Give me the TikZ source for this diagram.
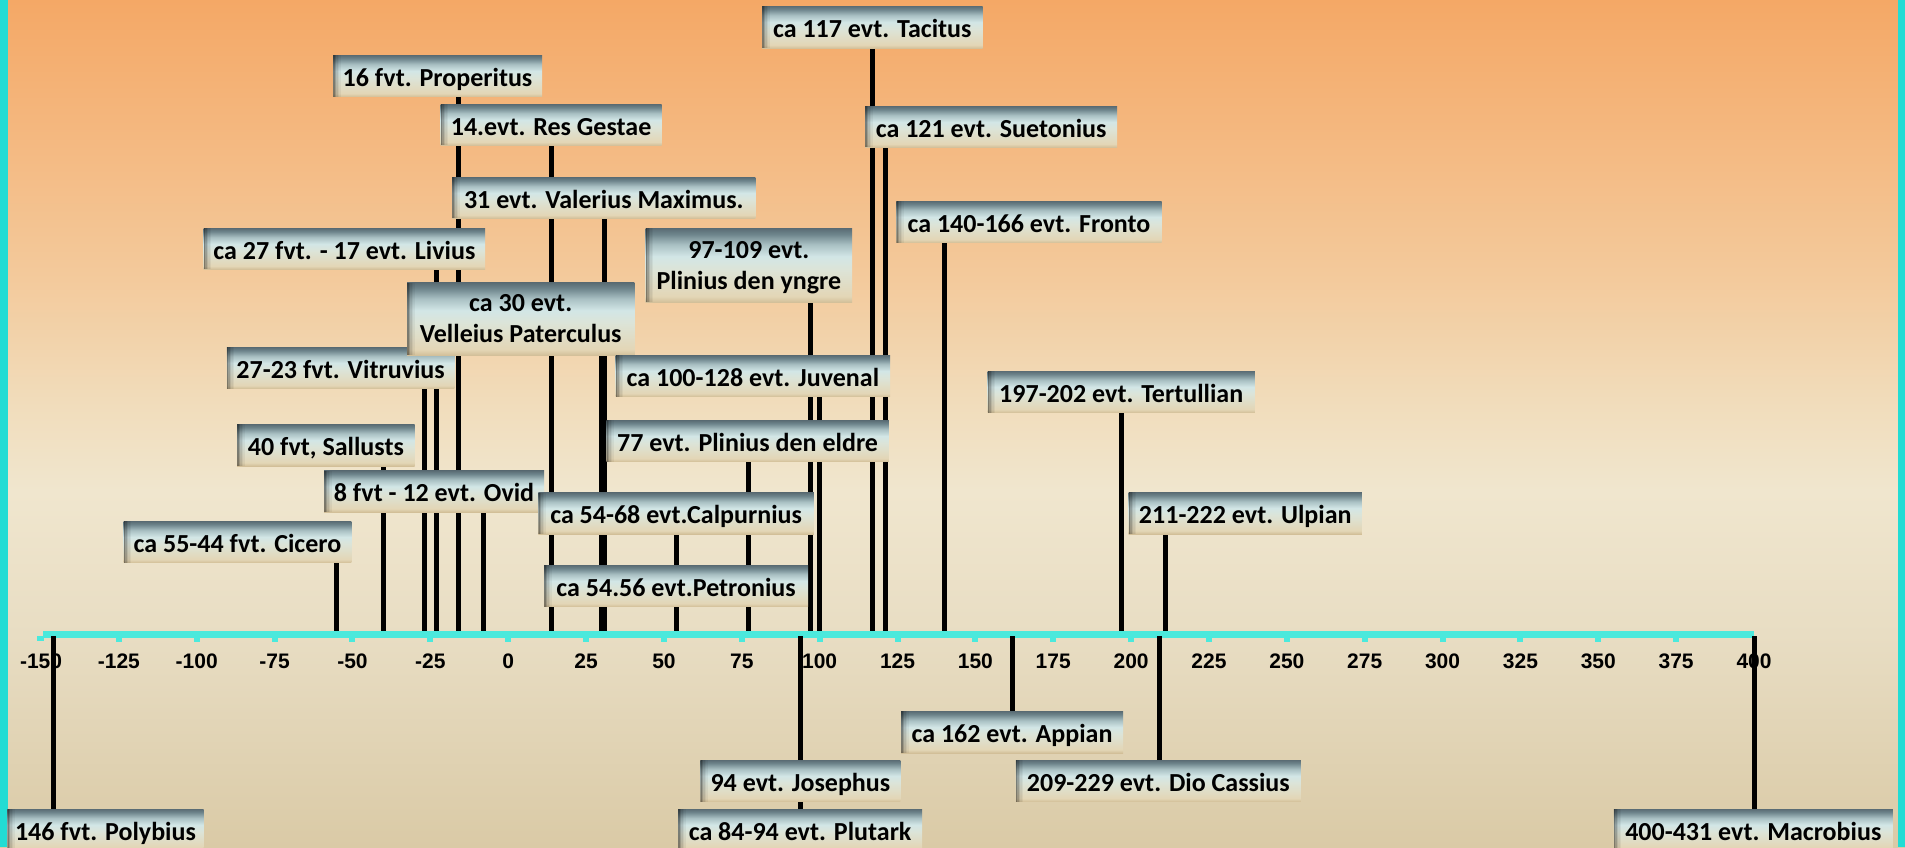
\documentclass[tikz,border=0pt]{standalone}
\usepackage{fontspec}
\newfontfamily\lblfont{Carlito}
\newfontfamily\axfont{Liberation Sans}
\definecolor{cyanborder}{HTML}{22DCD4}
\definecolor{axiscol}{HTML}{4BE9DC}
\definecolor{bgA}{HTML}{DACAA6}
\definecolor{bgB}{HTML}{E8DDC3}
\definecolor{bgC}{HTML}{F0E6CE}
\definecolor{bgD}{HTML}{F1DDBC}
\definecolor{bgE}{HTML}{F3CA9C}
\definecolor{bgF}{HTML}{F4B77E}
\definecolor{bgG}{HTML}{F4A866}
\definecolor{bxA}{HTML}{D2BF98}
\definecolor{bxB}{HTML}{E3D6B6}
\definecolor{bxC}{HTML}{DCE4D8}
\definecolor{bxD}{HTML}{D2E6E6}
\definecolor{bxE}{HTML}{A9C0C3}
\definecolor{bxF}{HTML}{6E858C}
\definecolor{bxG}{HTML}{5A6C74}
\pgfdeclareverticalshading{bgsh}{100bp}{color(0bp)=(bgA); color(25bp)=(bgA); color(37.5bp)=(bgB); color(46bp)=(bgC); color(51bp)=(bgD); color(58.5bp)=(bgE); color(67.5bp)=(bgF); color(75bp)=(bgG); color(100bp)=(bgG)}
\pgfdeclareverticalshading{boxsh}{100bp}{color(0bp)=(bxA); color(25bp)=(bxA); color(29bp)=(bxB); color(47.5bp)=(bxC); color(56bp)=(bxD); color(64bp)=(bxE); color(71bp)=(bxF); color(75bp)=(bxG); color(100bp)=(bxG)}
\pgfdeclarelayer{bglayer}
\pgfdeclarelayer{stemlayer}
\pgfsetlayers{bglayer,stemlayer,main}
\newcommand\tlbox[7][oneline]{\node[box,#1,minimum width={#5-#3},minimum height={#6-#4}] (#2) at ({(#3+#5)/2},{(#4+#6)/2}) {#7};}
\begin{document}
\begin{tikzpicture}[x=1pt,y=-1pt,
  box/.style={shade, shading=boxsh, inner sep=0pt, align=center, text=black,
    font=\lblfont\bfseries\fontsize{26}{31}\selectfont,
    path picture={\foreach \s/\o in {0/.45,1.5/.3,3/.18,4.5/.1,6/.05}{\fill[black,opacity=\o] ([xshift=\s]path picture bounding box.south west) rectangle ([xshift={\s+1.5}]path picture bounding box.north west);}}},
  oneline/.style={text height=22pt, text depth=1.5pt},
  twoline/.style={},
  stem/.style={line width=5pt, black},
  axisline/.style={line width=7pt, axiscol},
  axlbl/.style={font=\axfont\bfseries\fontsize{21}{25}\selectfont, text=black, inner sep=0pt}
]
\useasboundingbox (0,0) rectangle (1905,847);
\begin{pgfonlayer}{bglayer}
  \shade[shading=bgsh] (0,0) rectangle (1905,847);
  \fill[cyanborder] (0,0) rectangle (8,847);
  \fill[cyanborder] (1898,0) rectangle (1905,847);
\end{pgfonlayer}
\clip (0,0) rectangle (1905,847);
% boxes above the axis
\tlbox{tac}{762}{6}{982.6}{48.3}{ca 117 evt. Tacitus}
\tlbox{prop}{333}{55.3}{542}{96.7}{16 fvt. Properitus}
\tlbox{res}{440.6}{104.3}{661.6}{145.3}{14.evt. Res Gestae}
\tlbox{suet}{865.2}{106.3}{1117}{147.3}{ca 121 evt. Suetonius}
\tlbox{val}{452.2}{177.3}{755.4}{218.3}{31 evt. Valerius Maximus.}
\tlbox{fron}{896.4}{201.3}{1161.6}{242.7}{ca 140-166 evt. Fronto}
\tlbox{liv}{203.6}{228.3}{485.2}{269.3}{ca 27 fvt. - 17 evt. Livius}
\tlbox[twoline]{yng}{645.5}{228.3}{852.2}{302.3}{97-109 evt.\\Plinius den \smash{yngre}}
\tlbox{vit}{226.8}{347.3}{454.4}{388.7}{27-23 fvt. Vitruvius}
\tlbox[twoline]{vel}{407.1}{282.7}{634.3}{355.3}{ca 30 evt.\\Velleius Paterculus}
\tlbox{juv}{615.6}{355.3}{890.2}{396.7}{ca 100-128 evt. Juvenal}
\tlbox{ter}{987.5}{371}{1254.9}{412.7}{197-202 evt. Tertullian}
\tlbox{eld}{606.3}{420.3}{888.8}{461.7}{77 evt. Plinius den eldre}
\tlbox{sal}{237}{424.3}{414.7}{466}{40 fvt, Sallusts}
\tlbox{ovid}{324}{470.7}{544}{512}{8 fvt - 12 evt. Ovid}
\tlbox{calp}{538.4}{492.7}{813.8}{534}{ca 54-68 evt.Calpurnius}
\tlbox{ulp}{1128.6}{492.3}{1361.9}{534}{211-222 evt. Ulpian}
\tlbox{cic}{123.7}{521.3}{351.3}{562.7}{ca 55-44 fvt. Cicero}
\tlbox{pet}{544.2}{565.3}{808}{606.7}{ca 54.56 evt.Petronius}
% boxes below the axis
\tlbox{app}{901}{711.3}{1123}{753}{ca 162 evt. Appian}
\tlbox{jos}{700.4}{760}{900.4}{801.7}{94 evt. Josephus}
\tlbox{dio}{1015.8}{760}{1300.8}{801.7}{209-229 evt. Dio Cassius}
\tlbox{pol}{7.3}{809}{203.6}{850.5}{146 fvt. Polybius}
\tlbox{plu}{678}{809}{922.2}{850.5}{ca 84-94 evt. Plutark}
\tlbox{mac}{1613.8}{809}{1892.8}{850.5}{400-431 evt. Macrobius}
\begin{pgfonlayer}{stemlayer}
  % stems above the axis
  \foreach \n/\yr in {cic/-55,sal/-40,vit/-27,liv/-23,prop/-16,ovid/-8,res/14,vel/30,val/31,calp/54,pet/54,eld/77,yng/97,juv/100,tac/117,suet/121,fron/140,ter/197,ulp/211}{
    \coordinate (ax\n) at ({508.2+3.1145*\yr},633);
    \draw[stem] (ax\n |- \n.south) -- (ax\n);
  }
  % axis
  \coordinate (axL) at (43,634.5);
  \coordinate (axR) at (1754,634.5);
  \draw[axisline] (axL) -- (axR);
  \fill[axiscol] (37,636) rectangle (44,641);
  \foreach \t in {-125,-100,...,375}{
    \fill[axiscol] ({508.2+3.1145*\t-3},637) rectangle ({508.2+3.1145*\t+3},641.5);
  }
  \foreach \v [count=\i] in {-150,-125,...,400}{
    \node[axlbl] (tick\i) at ({508.2+3.1145*\v},661) {\v};
  }
  % stems below the axis
  \foreach \n/\yr in {pol/-146,jos/94,plu/94,app/162,dio/209,mac/400}{
    \coordinate (bx\n) at ({508.2+3.1145*\yr},636);
    \draw[stem] (bx\n) -- (bx\n |- \n.north);
  }
\end{pgfonlayer}
\end{tikzpicture}
\end{document}
